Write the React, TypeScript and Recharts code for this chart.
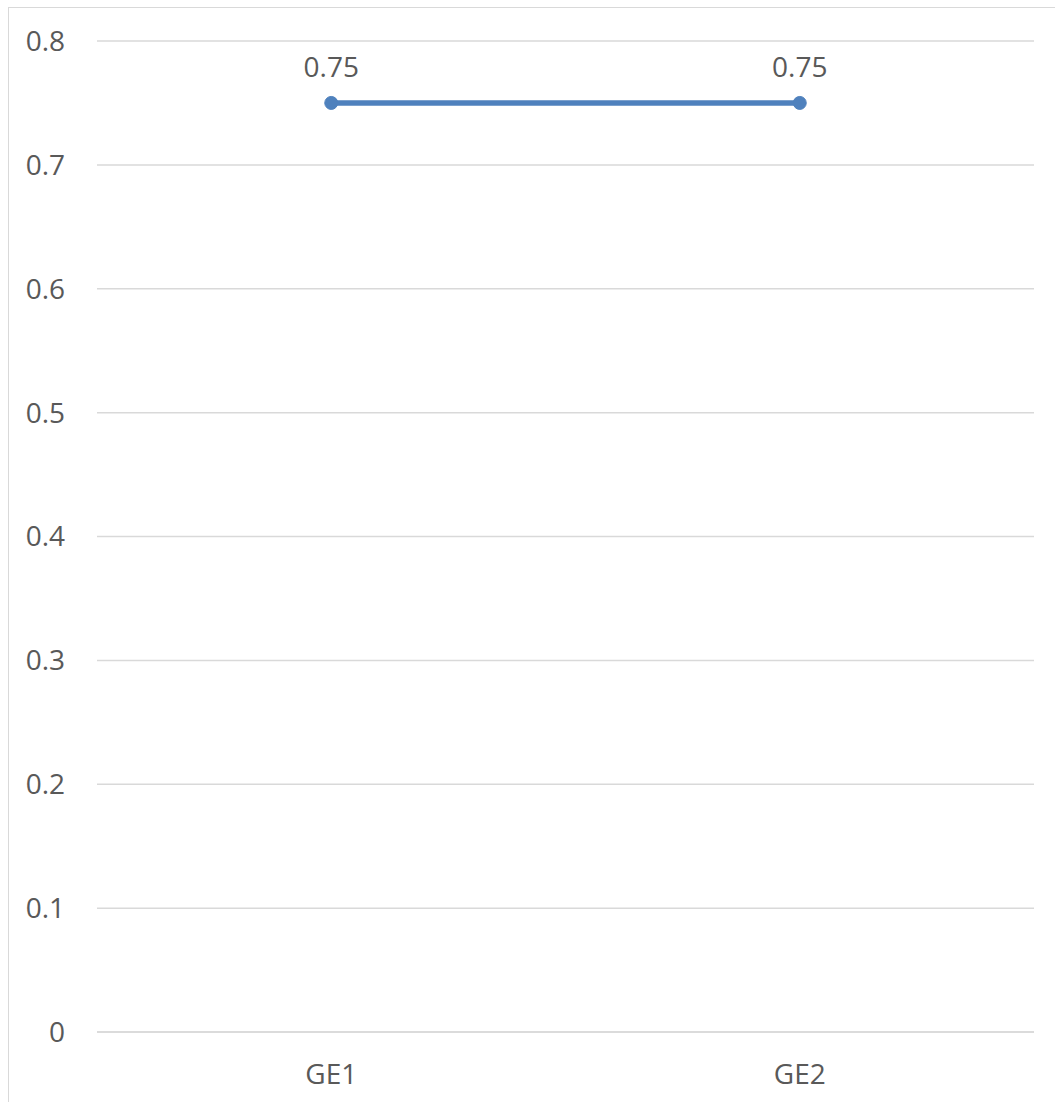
import React from "react";
import { LineChart, Line, XAxis, YAxis, CartesianGrid, LabelList } from "recharts";

// Series data
const categories = ["GE1", "GE2"];
const values = [0.75, 0.75];
const yTicks = [0, 0.1, 0.2, 0.3, 0.4, 0.5, 0.6, 0.7, 0.8];

const data = categories.map((name, i) => ({ name, value: values[i] }));

const FONT = "'Open Sans', 'Liberation Sans', sans-serif";
const TEXT = "#595959";
const GRID = "#d9d9d9";
const BLUE = "#4f81bd";

export default function App() {
  return (
    <div style={{ position: "fixed", left: 0, top: 0, width: 1055, height: 1102, overflow: "hidden", background: "#fff" }}>
      <div
        style={{
          position: "absolute",
          left: 8,
          top: 7,
          width: 1100,
          height: 1150,
          border: `1.5px solid ${GRID}`,
          background: "#fff",
        }}
      >
        <LineChart
          width={1100}
          height={1150}
          data={data}
          margin={{ top: 33, right: 75, bottom: 96, left: 24 }}
          style={{ fontFamily: FONT }}
        >
          <CartesianGrid vertical={false} stroke={GRID} strokeWidth={1.5} />
          <XAxis
            dataKey="name"
            scale="band"
            axisLine={{ stroke: GRID, strokeWidth: 1.5 }}
            tickLine={false}
            tick={{ fill: TEXT, fontSize: 28, fontFamily: FONT }}
            tickMargin={26}
          />
          <YAxis
            domain={[0, 0.8]}
            ticks={yTicks}
            axisLine={false}
            tickLine={false}
            width={64}
            tickMargin={26}
            tick={{ fill: TEXT, fontSize: 28, fontFamily: FONT }}
          />
          <Line
            dataKey="value"
            stroke={BLUE}
            strokeWidth={5.5}
            dot={{ r: 6.5, fill: BLUE, stroke: BLUE, strokeWidth: 1 }}
            activeDot={false}
            isAnimationActive={false}
          >
            <LabelList dataKey="value" position="top" offset={26} fill={TEXT} fontSize={28} fontFamily={FONT} />
          </Line>
        </LineChart>
      </div>
    </div>
  );
}
